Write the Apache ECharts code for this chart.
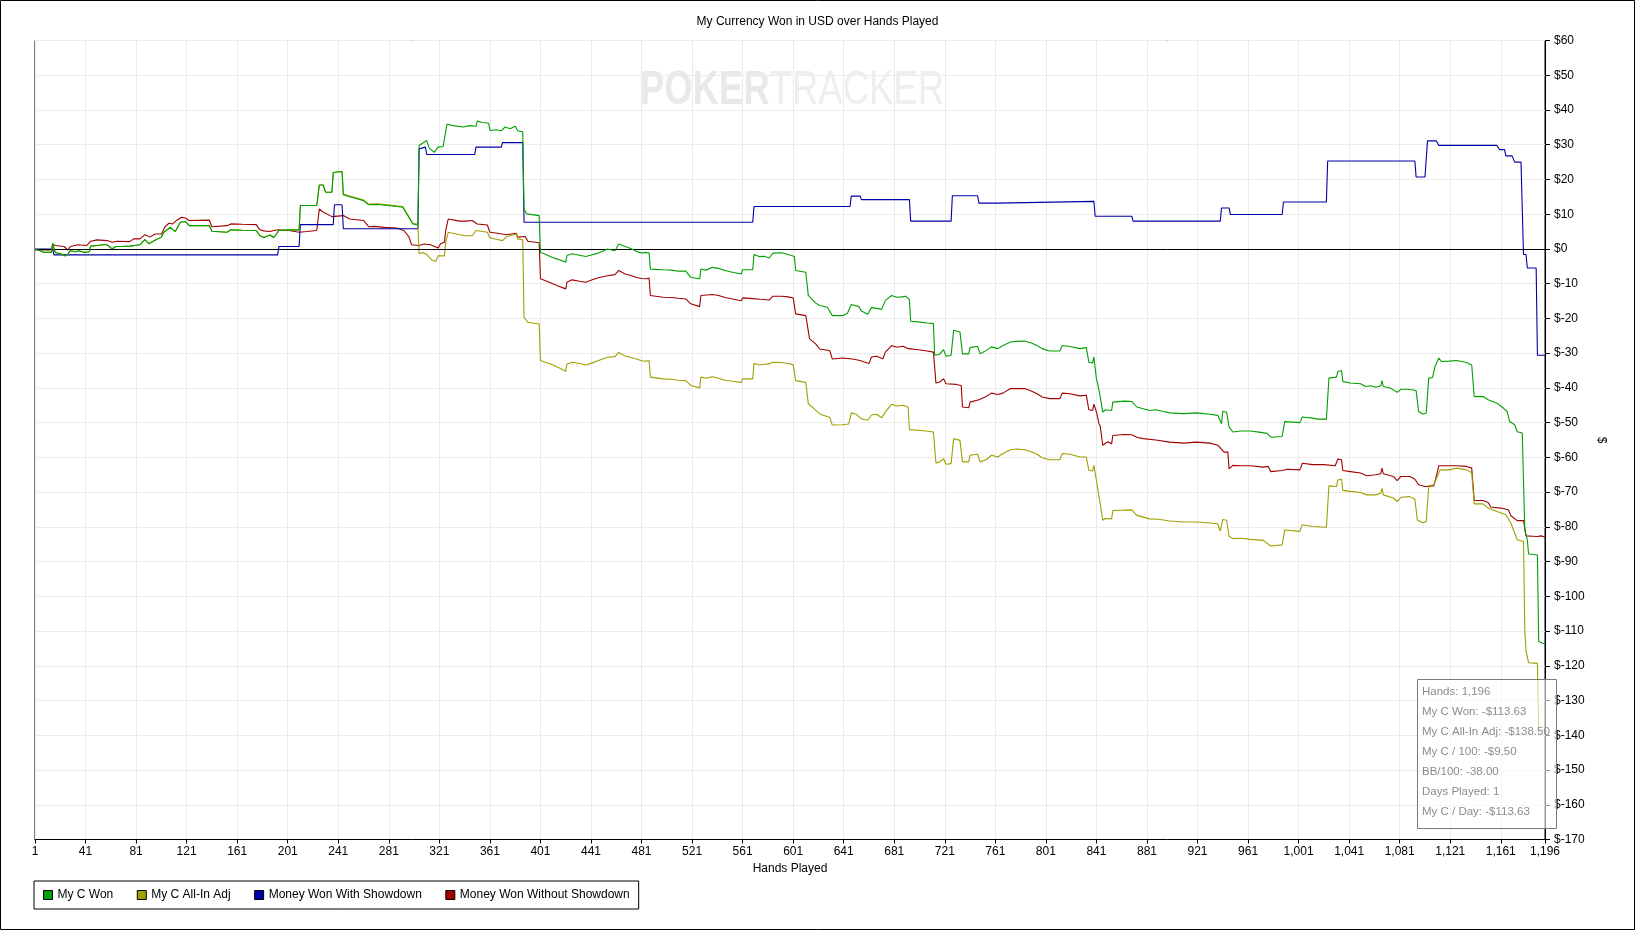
<!DOCTYPE html>
<html><head><meta charset="utf-8">
<script src="https://cdn.jsdelivr.net/npm/echarts@6/dist/echarts.min.js"></script>
<style>html,body{margin:0;padding:0;background:#fff}#c{width:1635px;height:930px}</style>
</head><body><div id="c"></div>
<script>
// [hand, value in USD]
const myCWon = [[1,0],[5,-0.5],[8,-1],[14,-1],[15,1.6],[17,-1],[22,-1.5],[25,-2],[27,-1.5],[29,-0.5],[33,-0.8],[36,-0.5],[40,-1],[44,-0.8],[45,0.8],[50,1],[55,1.2],[58,1.2],[62,0],[65,0.7],[70,0.7],[76,0.8],[80,1],[84,1.2],[88,2.7],[91,1.5],[96,2.5],[101,3.4],[103,4.8],[108,6.2],[112,5],[116,7.7],[120,7.9],[123,6.7],[139,6.7],[141,5.1],[153,4.8],[156,5.5],[165,5.4],[176,5.3],[179,3.8],[182,3.3],[187,4],[190,3.3],[194,5.3],[202,5.5],[210,5.5],[211,12.5],[224,12.5],[226,18.4],[229,18.4],[231,16.3],[236,16.3],[237,22],[244,22.3],[245,15.6],[250,15],[255,14.5],[261,13.9],[265,12.7],[272,12.8],[280,12.5],[287,12.2],[292,12],[296,9.6],[300,7.2],[304,6.9],[305,29.8],[308,30.5],[311,31.2],[313,29],[317,27.8],[320,29.3],[324,29.5],[327,35.9],[332,35.5],[340,35.1],[345,35.5],[350,35.3],[351,36.8],[355,36.4],[360,36.2],[361,34.1],[366,34.3],[370,34],[373,35.1],[377,34.6],[381,35.3],[383,34],[387,33.7],[388,11.5],[390,10.1],[400,9.6],[401,-1],[405,-1.5],[410,-2.4],[415,-3],[421,-3.8],[422,-1.9],[426,-1.4],[432,-1.8],[437,-2.2],[442,-1.7],[447,-1.2],[452,-0.4],[454,0],[460,-0.5],[463,1.4],[468,0.7],[472,0.2],[477,-0.7],[481,-1.2],[485,-1],[487,-1.2],[488,-5.8],[498,-6],[505,-6.1],[510,-6.4],[516,-6.4],[520,-8.2],[527,-8.6],[528,-5.8],[532,-6.1],[537,-5.3],[542,-5.6],[547,-6.2],[553,-6.7],[560,-7.2],[561,-6],[569,-6],[570,-1.6],[574,-2.2],[578,-2.1],[582,-2.6],[585,-1.2],[592,-1.1],[597,-1.6],[602,-2.2],[603,-6.2],[611,-6.7],[613,-13.4],[616,-14.5],[619,-15.6],[622,-16.3],[628,-16.8],[632,-19.2],[640,-19.2],[644,-18.5],[647,-16],[653,-16.6],[655,-17.9],[660,-18.8],[663,-16.9],[667,-17.1],[671,-17.4],[674,-14.8],[679,-13.4],[683,-13.9],[687,-13.8],[690,-13.6],[693,-14.6],[694,-20.8],[700,-21],[707,-21.3],[712,-21.5],[713,-30.6],[717,-30.3],[720,-29],[722,-30.9],[726,-30.6],[728,-23.4],[733,-23.9],[735,-30.2],[740,-30.2],[741,-28.4],[747,-28],[749,-30.2],[754,-29.2],[758,-28.2],[763,-28.7],[766,-28],[773,-26.8],[778,-26.6],[784,-26.5],[789,-27],[794,-27.8],[798,-28.7],[804,-29.4],[812,-29.4],[814,-27.8],[820,-28.1],[828,-28.7],[833,-28.4],[835,-32.6],[838,-32.8],[839,-31.1],[841,-37.4],[842,-38.8],[844,-42.6],[846,-47],[848,-46.3],[853,-46.5],[854,-44.1],[863,-43.8],[869,-43.9],[873,-45.5],[878,-46],[883,-46.5],[888,-46.3],[894,-46.8],[899,-47.2],[910,-47.4],[920,-47.2],[931,-47.6],[937,-47.9],[940,-50.3],[941,-46.7],[944,-47],[946,-51.3],[949,-52.7],[955,-52.4],[963,-52.4],[971,-52.8],[976,-53.1],[979,-54.2],[988,-54],[990,-49.7],[1002,-50],[1004,-48.4],[1012,-48.7],[1016,-49],[1023,-49],[1025,-37.2],[1031,-36.9],[1032,-35.3],[1035,-35],[1036,-38.2],[1042,-38.6],[1050,-38.8],[1054,-39.6],[1058,-39.4],[1062,-39.8],[1066,-39.4],[1067,-37.9],[1068,-39.6],[1074,-40.1],[1079,-41.3],[1082,-40.4],[1087,-40.4],[1092,-40.6],[1094,-40.8],[1096,-46.8],[1099,-47.5],[1102,-47.3],[1104,-37.2],[1107,-37],[1109,-33.8],[1112,-31.4],[1114,-32.4],[1120,-32.3],[1126,-32.1],[1134,-32.7],[1138,-33.4],[1140,-42.5],[1147,-42.5],[1151,-43.4],[1158,-44.4],[1161,-45.2],[1163,-45.8],[1166,-46.8],[1168,-49.7],[1172,-50.6],[1174,-52.6],[1178,-53],[1180,-80.9],[1182,-83.7],[1183,-87.8],[1190,-88.1],[1191,-113],[1194,-113.5],[1196,-113.63]];

const myCAllInAdj = [[1,0],[5,-0.5],[8,-1],[14,-1],[15,1.6],[17,-1],[22,-1.5],[25,-2],[27,-1.5],[29,-0.5],[33,-0.8],[36,-0.5],[40,-1],[44,-0.8],[45,0.8],[50,1],[55,1.2],[58,1.2],[62,0],[65,0.7],[70,0.7],[76,0.8],[80,1],[84,1.2],[88,2.7],[91,1.5],[96,2.5],[101,3.4],[103,4.8],[108,6.2],[112,5],[116,7.7],[120,7.9],[123,6.7],[139,6.7],[141,5.1],[153,4.8],[156,5.5],[165,5.4],[176,5.3],[179,3.8],[182,3.3],[187,4],[190,3.3],[194,5.3],[202,5.5],[210,5.5],[211,12.5],[224,12.5],[226,18.4],[229,18.4],[231,16.3],[236,16.3],[237,22],[244,22.3],[245,15.8],[250,15.2],[255,14.7],[261,14.1],[265,12.9],[272,13],[280,12.7],[287,12.4],[292,12.2],[296,9.8],[300,7.4],[304,7.1],[305,-1.4],[308,-1],[309,-0.5],[311,-1.6],[315,-3.2],[318,-3.6],[320,-2],[321,-2.2],[325,-2],[326,1.9],[328,4.8],[337,4.1],[342,3.8],[347,3.8],[350,5.3],[359,4.8],[361,3.2],[366,2.8],[371,2.4],[374,3.5],[382,4.3],[383,2.9],[387,2.6],[388,-19.7],[391,-21.1],[400,-21.6],[401,-32.1],[405,-32.6],[411,-33.4],[416,-34.3],[421,-35.2],[422,-33.1],[426,-32.6],[432,-33],[437,-33.4],[442,-32.8],[447,-32.1],[454,-31.2],[460,-31],[463,-29.8],[468,-30.8],[472,-31.2],[477,-31.7],[481,-32.2],[485,-32.3],[487,-32.1],[488,-36.9],[498,-37.4],[505,-37.5],[510,-37.8],[516,-37.9],[520,-39.3],[527,-40],[528,-36.9],[532,-37.2],[537,-36.8],[542,-37.2],[547,-37.8],[553,-38.1],[560,-38.4],[561,-37.4],[569,-37.4],[570,-32.9],[574,-33.4],[578,-33.2],[582,-33.1],[585,-32.6],[592,-32.7],[597,-33],[601,-33.3],[603,-37.9],[611,-38.4],[613,-44.6],[617,-45.8],[622,-47.5],[626,-48],[630,-48.5],[632,-50.7],[640,-50.6],[645,-50.4],[647,-47.2],[651,-47.6],[655,-48.9],[660,-49.3],[663,-47.8],[667,-47.6],[671,-48.6],[674,-46.9],[679,-44.7],[683,-45.2],[688,-45],[692,-45.5],[693,-52],[700,-52.2],[706,-52.4],[712,-52.7],[714,-61.6],[717,-61.3],[720,-60.4],[722,-62],[726,-61.8],[728,-54.6],[733,-55.1],[735,-61.3],[740,-61.3],[741,-59.4],[747,-59.1],[749,-61.3],[754,-60.6],[758,-59.4],[763,-59.9],[766,-59.1],[773,-57.8],[778,-57.6],[784,-57.8],[789,-58.3],[794,-59.1],[798,-60.1],[804,-60.7],[812,-60.7],[814,-58.9],[820,-59.1],[828,-59.9],[833,-59.9],[835,-63.7],[838,-63.9],[839,-62.3],[841,-66.6],[842,-69],[844,-73.3],[846,-78.1],[848,-77.6],[853,-77.7],[854,-75.3],[863,-75.2],[869,-75.1],[873,-76.7],[878,-77.2],[883,-77.7],[890,-77.8],[899,-78.3],[910,-78.6],[920,-78.6],[931,-78.9],[937,-79.1],[939,-81.2],[941,-77.9],[944,-78.1],[946,-82.7],[949,-83.4],[955,-83.3],[963,-83.6],[973,-83.9],[979,-85.5],[988,-85.2],[990,-80.9],[1002,-81.3],[1004,-79.4],[1012,-79.9],[1023,-80.1],[1025,-68.2],[1031,-68.4],[1032,-66.5],[1035,-66.3],[1036,-69.5],[1042,-69.8],[1050,-70.1],[1055,-70.8],[1062,-70.8],[1066,-70.3],[1067,-68.9],[1068,-70.8],[1076,-71.7],[1079,-72.7],[1082,-71.5],[1089,-71.3],[1093,-72],[1095,-78],[1099,-78.8],[1102,-78.5],[1104,-68.2],[1108,-67.9],[1113,-63.6],[1120,-63.6],[1126,-63.1],[1134,-63.6],[1138,-64.4],[1140,-73.4],[1147,-73.4],[1151,-74.6],[1158,-75.6],[1165,-76.5],[1169,-78.9],[1174,-83.7],[1179,-84.2],[1180,-109.7],[1181,-115.6],[1183,-119.1],[1190,-119.3],[1191,-138.4],[1196,-138.5]];

const wonWithShowdown = [[1,0],[15,0],[16,-1.7],[193,-1.7],[194,0.7],[210,0.7],[211,7],[237,7],[238,12.7],[244,12.7],[245,5.8],[304,5.8],[305,28.8],[310,29.3],[311,27.2],[349,27.2],[350,29.3],[370,29.3],[371,30.6],[387,30.6],[388,7.7],[569,7.7],[570,12.2],[646,12.2],[647,15.2],[654,15.2],[655,14.2],[693,14.2],[694,8],[726,8],[727,15.3],[747,15.3],[748,13.2],[763,13.2],[764,13.7],[839,13.7],[840,9.4],[869,9.4],[870,8],[939,8],[940,11.8],[946,11.8],[947,9.9],[988,9.9],[989,13.5],[1023,13.5],[1024,25.3],[1093,25.3],[1094,20.7],[1101,20.7],[1103,31.1],[1110,31.1],[1112,29.8],[1158,29.8],[1160,28.6],[1164,28.6],[1165,26.8],[1170,26.8],[1172,25],[1177,25],[1179,-1.6],[1181,-1.6],[1182,-5.5],[1189,-5.5],[1190,-30.6],[1196,-30.6]];

const wonWithoutShowdown = [[1,-0.3],[14,-0.3],[15,1.4],[17,1],[24,0.7],[27,-0.3],[29,0.7],[35,1.2],[42,1],[45,2.2],[50,2.6],[58,2.4],[62,1.9],[66,2.2],[76,2.1],[79,2.9],[84,2.9],[88,4.1],[92,3.4],[96,4.3],[101,4.3],[104,6.4],[107,7.4],[110,7.2],[113,8.2],[117,9.1],[120,8.9],[123,8.2],[139,8.3],[141,6.4],[153,6.7],[156,7.2],[165,7.1],[176,7],[179,5.5],[182,5.2],[187,5],[190,5.3],[194,5.5],[202,5.3],[210,4.8],[216,5],[224,5.3],[226,11.5],[229,10.6],[236,9.3],[245,9.6],[250,8.6],[261,8.2],[265,6.4],[270,6.5],[277,6.2],[287,6],[293,5.3],[297,3.4],[299,1.2],[305,1],[309,1.4],[314,1.2],[320,0.3],[322,1.5],[325,1.9],[326,5.3],[328,8.6],[337,8],[342,8],[347,8.2],[351,7.2],[359,6.9],[361,4.8],[367,4.5],[374,4.1],[382,4.5],[383,3.4],[389,3.6],[391,2.2],[400,1.8],[401,-8.6],[408,-9.6],[414,-10.5],[421,-11.5],[422,-9.6],[426,-8.9],[432,-9.3],[437,-9.6],[442,-8.9],[447,-8.3],[454,-7.7],[460,-7.4],[463,-6.2],[468,-7.2],[472,-7.6],[477,-8.2],[481,-8.5],[485,-8.6],[487,-8.4],[488,-13.4],[498,-13.9],[505,-14],[510,-14.2],[516,-14.4],[520,-15.8],[527,-16.6],[528,-13.4],[537,-13.1],[542,-13.4],[547,-14],[553,-14.4],[560,-14.9],[561,-14.1],[569,-14.3],[575,-14.5],[582,-14.7],[585,-13.6],[592,-13.6],[597,-13.8],[601,-14.1],[603,-18.7],[611,-19.2],[614,-25.9],[619,-27.4],[622,-28.8],[626,-29],[630,-29.3],[632,-31.7],[640,-31.4],[648,-31.7],[654,-32.1],[658,-32.6],[661,-33],[663,-31.1],[667,-30.9],[672,-31.6],[674,-29.7],[679,-27.8],[683,-28.3],[688,-28],[692,-28.7],[700,-29],[706,-29.3],[712,-29.7],[714,-38.6],[717,-38.3],[720,-37.4],[722,-38.8],[730,-39],[734,-39.3],[735,-45.5],[740,-45.7],[741,-44.1],[748,-43.4],[753,-42.6],[758,-41.5],[763,-41.9],[767,-41.5],[773,-40.2],[784,-40.2],[789,-40.8],[794,-41.7],[798,-42.6],[804,-43.1],[812,-43.1],[814,-41.5],[820,-41.7],[828,-42.3],[833,-42.1],[835,-46.3],[838,-46.5],[839,-44.7],[841,-46.9],[843,-50.3],[844,-51],[846,-56.5],[850,-55.5],[853,-56.1],[854,-53.7],[863,-53.4],[869,-53.5],[873,-54.2],[878,-54.6],[888,-55],[899,-55.6],[910,-55.9],[920,-55.6],[931,-55.9],[937,-56.5],[942,-58.5],[945,-58.5],[946,-63.3],[949,-62.3],[955,-62.4],[963,-62.4],[973,-62.8],[977,-62.6],[979,-64.1],[988,-63.8],[992,-63.4],[1002,-63.6],[1004,-61.7],[1012,-62.1],[1021,-62.1],[1030,-62.4],[1032,-60.5],[1035,-60.7],[1036,-63.8],[1042,-64.1],[1050,-64.5],[1055,-65.3],[1062,-65],[1066,-64.7],[1067,-63.1],[1068,-64.7],[1076,-65.5],[1079,-66.7],[1082,-65.5],[1089,-65.5],[1093,-66.3],[1096,-67.9],[1101,-68.4],[1108,-68.2],[1109,-66.9],[1112,-62.4],[1120,-62.4],[1126,-62.4],[1134,-62.6],[1138,-63.1],[1140,-72.4],[1147,-72.4],[1151,-73],[1153,-74.3],[1161,-74.6],[1167,-75.1],[1169,-76.8],[1174,-78.2],[1179,-78.2],[1181,-82.6],[1186,-82.7],[1190,-82.8],[1193,-82.6],[1196,-83]];

const seriesNames = ['My C Won', 'My C All-In Adj', 'Money Won With Showdown', 'Money Won Without Showdown'];
const tooltipLines = ['Hands: 1,196', 'My C Won: -$113.63', 'My C All-In Adj: -$138.50', 'My C / 100: -$9.50', 'BB/100: -38.00', 'Days Played: 1', 'My C / Day: -$113.63'];
const chartTitle = 'My Currency Won in USD over Hands Played';

const FONT = '"Liberation Sans", Arial, sans-serif';
// x axis runs on hand offset (hand - 1) so ticks fall on 1, 41, 81, ...
const toXY = arr => arr.map(p => [p[0] - 1, p[1]]);

const chart = echarts.init(document.getElementById('c'), null, {renderer: 'canvas'});

function lineSeries(name, data, color, extra) {
  return Object.assign({
    name: name, type: 'line', data: toXY(data), color: color,
    showSymbol: false, symbol: 'none', animation: false, silent: true,
    lineStyle: {color: color, width: 1.1}
  }, extra || {});
}

const tipGraphics = tooltipLines.map((t, i) => ({
  type: 'text', x: 1422, y: 692 + i * 20, z: 101,
  style: {text: t, fill: '#8c8c8c', font: '11.5px ' + FONT, verticalAlign: 'middle'}
}));

chart.setOption({
  backgroundColor: '#fff',
  animation: false,
  title: {text: chartTitle, left: 'center', top: 16, padding: 0,
    textStyle: {fontSize: 12, fontWeight: 'normal', color: '#000', fontFamily: FONT}},
  grid: {left: 35, right: 90, top: 40.5, bottom: 90.5, show: true, borderColor: '#000', borderWidth: 1, backgroundColor: 'transparent'},
  legend: {
    data: seriesNames, left: 34, top: 881, orient: 'horizontal',
    padding: [8, 9, 8, 9], itemGap: 23.5, itemWidth: 9, itemHeight: 9, icon: 'rect',
    borderColor: '#000', borderWidth: 1,
    itemStyle: {borderColor: '#000', borderWidth: 1},
    textStyle: {fontSize: 12, color: '#000', fontFamily: FONT}
  },
  xAxis: {
    type: 'value', min: 0, max: 1195, interval: 40,
    name: 'Hands Played', nameLocation: 'middle', nameGap: 23,
    nameTextStyle: {fontSize: 12, color: '#000', fontFamily: FONT},
    axisLine: {show: true, onZero: false, lineStyle: {color: '#000', width: 1}},
    axisTick: {show: true, length: 4, lineStyle: {color: '#000'}},
    axisLabel: {color: '#000', fontSize: 12, fontFamily: FONT, margin: 6,
      formatter: v => (v + 1).toLocaleString('en-US')},
    splitLine: {show: true, lineStyle: {color: '#ebebeb', width: 1}}
  },
  yAxis: {
    type: 'value', position: 'right', min: -170, max: 60, interval: 10,
    name: '$', nameLocation: 'middle', nameGap: 50, nameRotate: -90,
    nameTextStyle: {fontSize: 12, color: '#000', fontFamily: FONT},
    axisLine: {show: true, onZero: false, lineStyle: {color: '#000', width: 1}},
    axisTick: {show: true, length: 5, lineStyle: {color: '#000'}},
    axisLabel: {color: '#000', fontSize: 12, fontFamily: FONT, margin: 9,
      formatter: v => '$' + v},
    splitLine: {show: true, lineStyle: {color: '#ebebeb', width: 1}}
  },
  series: [
    lineSeries(seriesNames[3], wonWithoutShowdown, '#a00000', {
      z: 2,
      markLine: {silent: true, symbol: ['none', 'none'], animation: false,
        label: {show: false}, lineStyle: {color: '#000', width: 1, type: 'solid'},
        data: [{yAxis: 0}]}
    }),
    lineSeries(seriesNames[2], wonWithShowdown, '#0000a8', {z: 3}),
    lineSeries(seriesNames[1], myCAllInAdj, '#a0a000', {z: 4}),
    lineSeries(seriesNames[0], myCWon, '#00a000', {z: 5})
  ],
  graphic: [
    {type: 'rect', z: 0, silent: true, shape: {x: 0.5, y: 0.5, width: 1634, height: 929},
      style: {fill: 'none', stroke: '#000', lineWidth: 1}},
    {type: 'text', z: 1, silent: true, x: 640, y: 91, scaleX: 0.76,
      style: {text: '{b|POKER}{n|TRACKER}', verticalAlign: 'middle', fill: '#ececec',
        rich: {b: {fontSize: 48, fontWeight: 'bold', fontFamily: FONT, fill: '#e9e9e9'},
               n: {fontSize: 48, fontWeight: 'normal', fontFamily: FONT, fill: '#eeeeee'}}}},
    {type: 'rect', z: 100, silent: true, shape: {x: 1417.5, y: 679.5, width: 139, height: 149},
      style: {fill: 'rgba(255,255,255,0.6)', stroke: '#7a7a7a', lineWidth: 1}}
  ].concat(tipGraphics)
});
</script></body></html>
